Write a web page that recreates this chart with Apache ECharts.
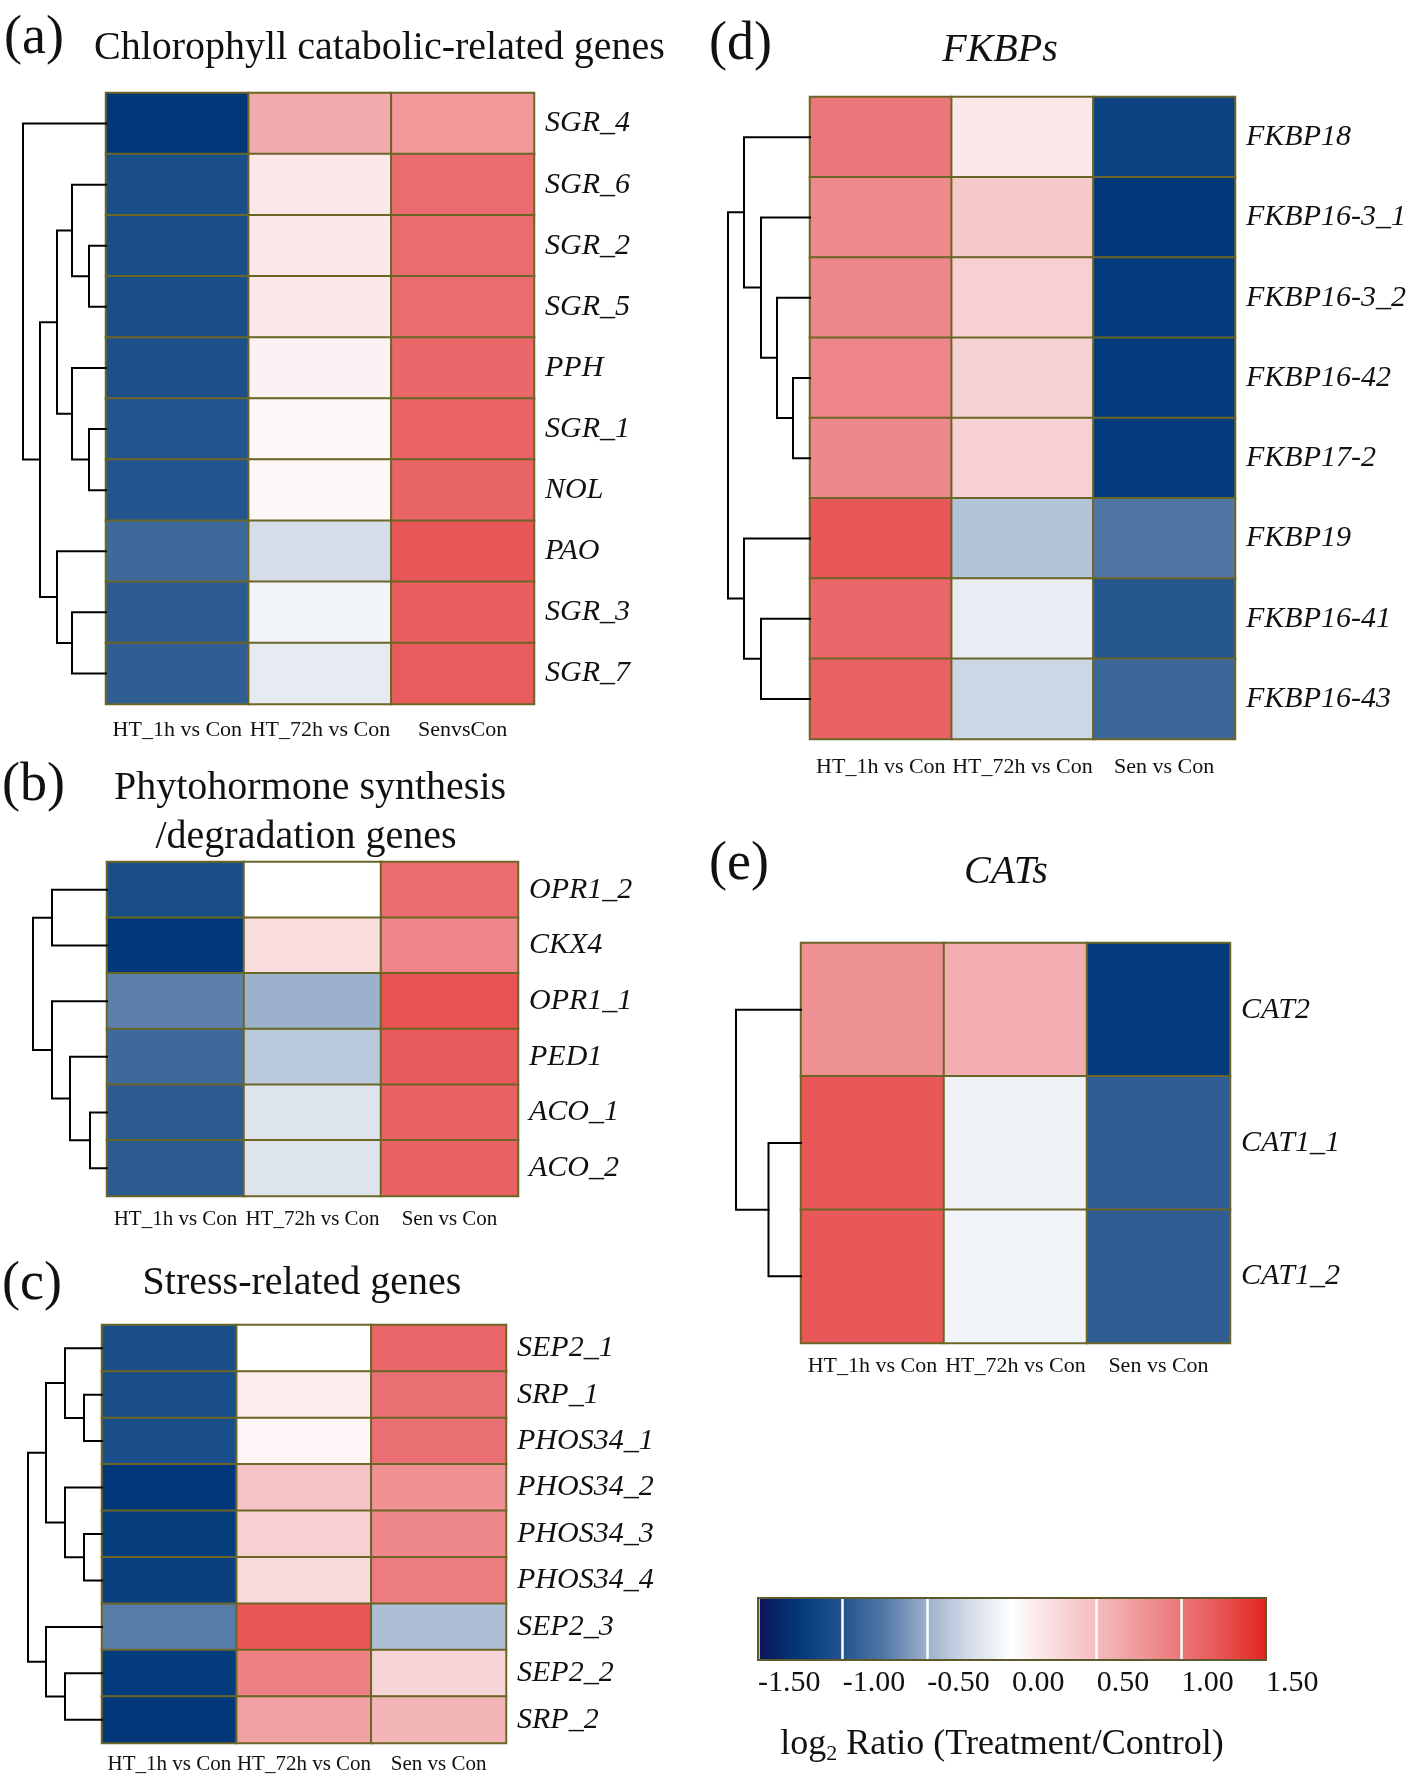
<!DOCTYPE html>
<html>
<head>
<meta charset="utf-8">
<script src="https://cdn.jsdelivr.net/npm/echarts@6/dist/echarts.min.js"></script>
<style>
html,body{margin:0;padding:0;background:#fff;}
#chart{width:1418px;height:1780px;}
</style>
</head>
<body>
<div id="chart"></div>
<script>
// ---------------- DATA ----------------
const colsA = ['HT_1h vs Con', 'HT_72h vs Con', 'SenvsCon'];
const colsStd = ['HT_1h vs Con', 'HT_72h vs Con', 'Sen vs Con'];

const rowsA = ['SGR_4', 'SGR_6', 'SGR_2', 'SGR_5', 'PPH', 'SGR_1', 'NOL', 'PAO', 'SGR_3', 'SGR_7'];
const a_HT1h  = [-1.26, -1.06, -1.06, -1.06, -1.04, -1.00, -1.00, -0.86, -0.955, -0.93];
const a_HT72h = [0.63, 0.16, 0.16, 0.16, 0.09, 0.06, 0.06, -0.24, -0.08, -0.14];
const a_Sen   = [0.76, 1.07, 1.07, 1.07, 1.10, 1.125, 1.12, 1.22, 1.17, 1.18];
const linkA = [[2,3,17],[5,6,17],[8,9,34],[1,10,34],[4,11,34],[13,14,49],[7,12,49],[15,16,66],[0,17,83]];

const rowsB = ['OPR1_2', 'CKX4', 'OPR1_1', 'PED1', 'ACO_1', 'ACO_2'];
const b_HT1h  = [-1.06, -1.26, -0.72, -0.86, -0.955, -0.95];
const b_HT72h = [0.0, 0.25, -0.50, -0.36, -0.19, -0.19];
const b_Sen   = [1.07, 0.89, 1.245, 1.195, 1.14, 1.14];
const linkB = [[4,5,17],[3,6,37],[0,1,55],[2,7,55],[8,9,74]];

const rowsC = ['SEP2_1', 'SRP_1', 'PHOS34_1', 'PHOS34_2', 'PHOS34_3', 'PHOS34_4', 'SEP2_3', 'SEP2_2', 'SRP_2'];
const c_HT1h  = [-1.06, -1.07, -1.06, -1.26, -1.22, -1.19, -0.73, -1.24, -1.26];
const c_HT72h = [0.0, 0.12, 0.07, 0.45, 0.34, 0.27, 1.22, 0.92, 0.69];
const c_Sen   = [1.10, 1.04, 1.04, 0.81, 0.87, 0.96, -0.42, 0.31, 0.55];
const linkC = [[1,2,18],[4,5,18],[0,9,37],[3,10,37],[7,8,37],[11,12,56],[6,13,56],[14,15,74]];

const rowsD = ['FKBP18', 'FKBP16-3_1', 'FKBP16-3_2', 'FKBP16-42', 'FKBP17-2', 'FKBP19', 'FKBP16-41', 'FKBP16-43'];
const d_HT1h  = [0.99, 0.86, 0.88, 0.89, 0.87, 1.21, 1.10, 1.14];
const d_HT72h = [0.16, 0.41, 0.34, 0.33, 0.34, -0.395, -0.13, -0.28];
const d_Sen   = [-1.16, -1.26, -1.24, -1.24, -1.24, -0.77, -0.98, -0.87];
const linkD = [[3,4,17],[2,8,33],[1,9,49],[0,10,66],[6,7,49],[5,12,66],[11,13,82]];

const rowsE = ['CAT2', 'CAT1_1', 'CAT1_2'];
const e_HT1h  = [0.80, 1.21, 1.21];
const e_HT72h = [0.60, -0.09, -0.08];
const e_Sen   = [-1.24, -0.93, -0.93];
const linkE = [[1,2,32.5],[0,3,65]];

const scaleMin = -1.5, scaleMax = 1.5, scaleStep = 0.5;

// ---------------- STYLE ----------------
const FONT = '"Liberation Serif", "Times New Roman", "DejaVu Serif", serif';
const BORDER = '#6b6526';
const cmap = ['#0a1458', '#023a7b', '#22548d', '#5379a6', '#9cb1cc', '#d3dce8', '#ffffff',
              '#f8dcde', '#f4bcbf', '#f0999b', '#ec7679', '#e75252', '#e0261e'];

const panels = [
  {rows: rowsA, cols: colsA, vals: [a_HT1h, a_HT72h, a_Sen], link: linkA,
   left: 106, top: 93, width: 428, height: 611, xMargin: 15, xFont: 22},
  {rows: rowsB, cols: colsStd, vals: [b_HT1h, b_HT72h, b_Sen], link: linkB,
   left: 107, top: 862, width: 411, height: 334, xMargin: 13, xFont: 21},
  {rows: rowsC, cols: colsStd, vals: [c_HT1h, c_HT72h, c_Sen], link: linkC,
   left: 102, top: 1325, width: 404, height: 418, xMargin: 11, xFont: 21},
  {rows: rowsD, cols: colsStd, vals: [d_HT1h, d_HT72h, d_Sen], link: linkD,
   left: 810, top: 97, width: 425, height: 642, xMargin: 17, xFont: 22},
  {rows: rowsE, cols: colsStd, vals: [e_HT1h, e_HT72h, e_Sen], link: linkE,
   left: 801, top: 943, width: 429, height: 400, xMargin: 12, xFont: 22}
];

function dendroSegments(n, link) {
  const ys = [], hs = [];
  for (let i = 0; i < n; i++) { ys.push(i); hs.push(0); }
  const segs = [];
  link.forEach(m => {
    const a = m[0], b = m[1], h = m[2];
    segs.push([hs[a], ys[a], h, ys[b], hs[b]]);
    ys.push((ys[a] + ys[b]) / 2);
    hs.push(h);
  });
  return segs;
}

function renderDendro(params, api) {
  const p1 = api.coord([api.value(0), api.value(1)]);
  const p2 = api.coord([api.value(2), api.value(1)]);
  const p3 = api.coord([api.value(2), api.value(3)]);
  const p4 = api.coord([api.value(4), api.value(3)]);
  return {
    type: 'polyline',
    shape: {points: [p1, p2, p3, p4]},
    style: {stroke: '#000', lineWidth: 2, fill: null, lineJoin: 'miter', lineCap: 'square'}
  };
}

const grid = [], xAxis = [], yAxis = [], series = [];

panels.forEach((p, i) => {
  grid.push({left: p.left, top: p.top, width: p.width, height: p.height, containLabel: false});
  xAxis.push({
    type: 'category', gridIndex: i, data: p.cols, position: 'bottom',
    axisLine: {show: false}, axisTick: {show: false}, splitLine: {show: false},
    axisLabel: {interval: 0, margin: p.xMargin, fontSize: p.xFont, fontFamily: FONT, color: '#111'}
  });
  yAxis.push({
    type: 'category', gridIndex: i, data: p.rows, inverse: true, position: 'right',
    axisLine: {show: false}, axisTick: {show: false}, splitLine: {show: false},
    axisLabel: {interval: 0, margin: 11, fontSize: 30, fontStyle: 'italic', fontFamily: FONT, color: '#111'}
  });
  const data = [];
  p.vals.forEach((col, c) => col.forEach((v, r) => data.push([c, r, v])));
  series.push({
    type: 'heatmap', xAxisIndex: i, yAxisIndex: i, data: data,
    itemStyle: {borderColor: BORDER, borderWidth: 2},
    emphasis: {disabled: true}, progressive: 0, animation: false
  });
});

panels.forEach((p, i) => {
  const gi = panels.length + i;
  const rootH = Math.max.apply(null, p.link.map(m => m[2]));
  grid.push({left: p.left - rootH, top: p.top, width: rootH, height: p.height, containLabel: false});
  xAxis.push({type: 'value', gridIndex: gi, min: 0, max: rootH, inverse: true, show: false});
  yAxis.push({type: 'value', gridIndex: gi, min: -0.5, max: p.rows.length - 0.5, inverse: true, show: false});
  series.push({
    type: 'custom', xAxisIndex: gi, yAxisIndex: gi,
    dimensions: ['h0', 'y0', 'h', 'y1', 'h1'],
    encode: {x: [0, 2, 4], y: [1, 3]},
    data: dendroSegments(p.rows.length, p.link),
    renderItem: renderDendro, clip: false, silent: true, animation: false
  });
});

// colour bar axis grid
const cbIndex = grid.length;
grid.push({left: 758, top: 1598, width: 508, height: 62, show: true, borderColor: '#5c5a2c',
           borderWidth: 2, backgroundColor: 'transparent', z: 20});
xAxis.push({
  type: 'value', gridIndex: cbIndex, min: scaleMin, max: scaleMax, interval: scaleStep, position: 'bottom',
  axisLine: {show: false}, axisTick: {show: false},
  splitLine: {show: true, lineStyle: {color: '#ffffff', width: 2.5}},
  axisLabel: {formatter: v => v.toFixed(2), align: 'left', fontSize: 30, fontFamily: FONT, color: '#111', margin: 8},
  z: 15
});
yAxis.push({type: 'value', gridIndex: cbIndex, show: false, min: 0, max: 1});

const T = (text, x, y, size, opts) => Object.assign({
  type: 'text', x: x, y: y, z: 100,
  style: Object.assign({text: text, fontSize: size, fontFamily: FONT, fill: '#111',
                        align: 'left', verticalAlign: 'middle'}, opts || {})
});

const graphic = [
  T('(a)', 4, 39, 54),
  T('Chlorophyll catabolic-related genes', 94, 48, 40),
  T('(b)', 2, 786, 54),
  T('Phytohormone synthesis', 310, 788, 40, {align: 'center'}),
  T('/degradation genes', 306, 837, 40, {align: 'center'}),
  T('(c)', 2, 1285, 54),
  T('Stress-related genes', 302, 1283, 40, {align: 'center'}),
  T('(d)', 709, 45, 54),
  T('FKBPs', 1000, 50, 40, {align: 'center', fontStyle: 'italic'}),
  T('(e)', 709, 865, 54),
  T('CATs', 1006, 872, 40, {align: 'center', fontStyle: 'italic'}),
  T('{b|log}{s|2}{b| Ratio (Treatment/Control)}', 1002, 1745, 36, {
    align: 'center',
    rich: {
      b: {fontSize: 36, fontFamily: FONT, fill: '#111', lineHeight: 40, verticalAlign: 'middle'},
      s: {fontSize: 22, fontFamily: FONT, fill: '#111', lineHeight: 22, verticalAlign: 'bottom'}
    }
  })
];

const option = {
  backgroundColor: '#ffffff',
  animation: false,
  grid: grid, xAxis: xAxis, yAxis: yAxis, series: series, graphic: graphic,
  visualMap: {
    type: 'continuous', min: scaleMin, max: scaleMax, orient: 'horizontal',
    left: 758, top: 1598, itemWidth: 62, itemHeight: 508, padding: 0,
    calculable: false, hoverLink: false, seriesIndex: [0, 1, 2, 3, 4],
    inRange: {color: cmap}, z: 4
  }
};

const chart = echarts.init(document.getElementById('chart'), null, {renderer: 'canvas'});
chart.setOption(option);
</script>
</body>
</html>
